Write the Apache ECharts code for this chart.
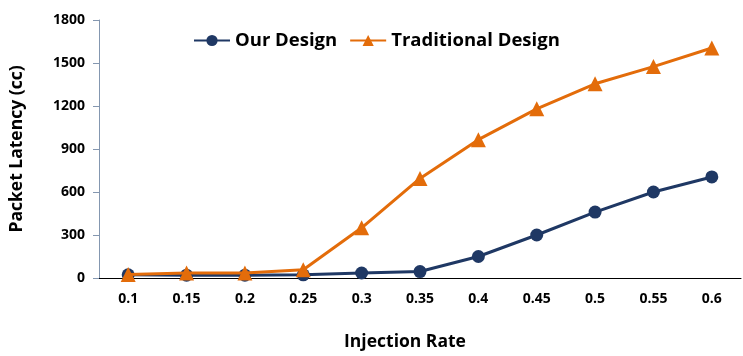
<!DOCTYPE html>
<html>
<head>
<meta charset="utf-8">
<script src="https://cdn.jsdelivr.net/npm/echarts@6/dist/echarts.min.js"></script>
<style>
    html, body { margin: 0; padding: 0; background: #fff; }
    #latency_chart { width: 743px; height: 356px; }
</style>
</head>
<body>
<div id="latency_chart"></div>
<script>
// Chart data
// ------------------------------

var injectionRates = ['0.1', '0.15', '0.2', '0.25', '0.3', '0.35', '0.4', '0.45', '0.5', '0.55', '0.6'];
var ourDesign = [22, 20, 20, 22, 35, 45, 150, 300, 460, 600, 705];
var traditionalDesign = [25, 35, 35, 58, 350, 695, 965, 1180, 1355, 1475, 1605];
var latencyTicks = [0, 300, 600, 900, 1200, 1500, 1800];

var fontFamily = '"Open Sans", Roboto, sans-serif';

// Initialize chart
var latency_element = document.getElementById('latency_chart');
var latency_chart = echarts.init(latency_element);

latency_chart.setOption({

    animation: false,

    textStyle: {
        fontFamily: fontFamily,
        fontWeight: 'bold'
    },

    // Setup grid
    grid: {
        left: 97,
        right: 2,
        top: 20,
        bottom: 77,
        containLabel: false
    },

    // Add legend
    legend: {
        data: ['Our Design', 'Traditional Design'],
        left: 188,
        top: 26,
        itemWidth: 36,
        itemHeight: 14,
        itemGap: 12,
        textStyle: {
            fontFamily: fontFamily,
            fontWeight: 'bold',
            fontSize: 18.5,
            color: '#000'
        }
    },

    // Horizontal axis
    xAxis: [{
        type: 'category',
        data: injectionRates,
        name: 'Injection Rate',
        nameLocation: 'middle',
        nameGap: 55,
        nameTextStyle: {
            fontSize: 17.5,
            fontWeight: 'bold',
            color: '#000',
            padding: [0, 30, 0, 0]
        },
        axisLine: {
            lineStyle: { color: '#000', width: 1 }
        },
        axisTick: {
            alignWithLabel: true,
            length: 6,
            lineStyle: { color: '#000' }
        },
        axisLabel: {
            margin: 14,
            fontSize: 14,
            fontWeight: 'bold',
            color: '#000'
        }
    }],

    // Vertical axis
    yAxis: [{
        type: 'value',
        min: latencyTicks[0],
        max: latencyTicks[latencyTicks.length - 1],
        interval: latencyTicks[1] - latencyTicks[0],
        name: 'Packet Latency (cc)',
        nameLocation: 'middle',
        nameGap: 73,
        nameTextStyle: {
            fontSize: 17.5,
            fontWeight: 'bold',
            color: '#000'
        },
        axisLine: {
            show: true,
            lineStyle: { color: '#8497b0', width: 1 }
        },
        axisTick: {
            show: true,
            length: 6,
            lineStyle: { color: '#8497b0' }
        },
        axisLabel: {
            margin: 14,
            fontSize: 14,
            fontWeight: 'bold',
            color: '#000',
            formatter: function (value) {
                return String(value);
            }
        },
        splitLine: { show: false }
    }],

    // Add series
    series: [
        {
            name: 'Our Design',
            type: 'line',
            data: ourDesign,
            symbol: 'circle',
            symbolSize: 13,
            z: 2,
            lineStyle: { color: '#1f3864', width: 3 },
            itemStyle: { color: '#1f3864' }
        },
        {
            name: 'Traditional Design',
            type: 'line',
            data: traditionalDesign,
            symbol: 'triangle',
            symbolSize: 15,
            z: 3,
            lineStyle: { color: '#e36c0a', width: 3 },
            itemStyle: { color: '#e36c0a' }
        }
    ]
});
</script>
</body>
</html>
